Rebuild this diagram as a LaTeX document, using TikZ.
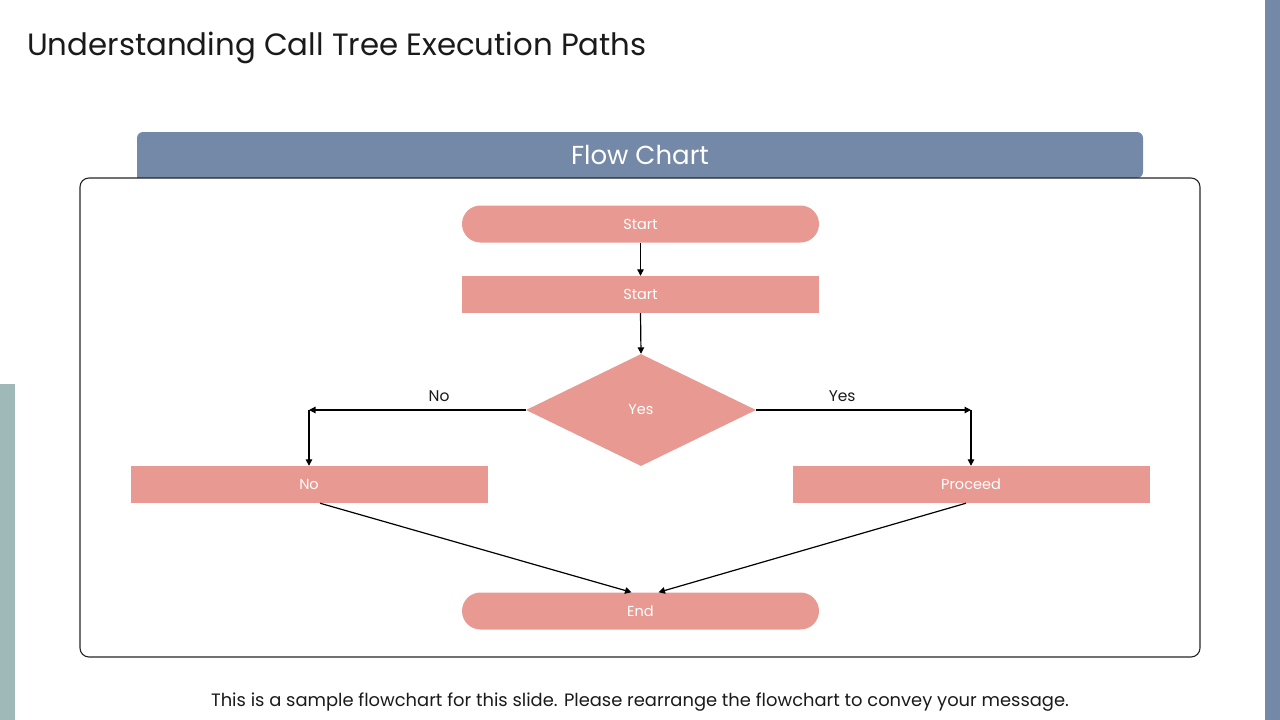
\documentclass[tikz,border=0pt]{standalone}
\usepackage{fontspec}
\setmainfont{Poppins}
\usetikzlibrary{shapes.geometric,arrows.meta}
\definecolor{slate}{HTML}{7489A8}
\definecolor{teal}{HTML}{9FB9B8}
\definecolor{salmon}{HTML}{E89A92}
\definecolor{txt}{HTML}{1A1A1A}
\tikzset{
  flowbox/.style={fill=salmon, draw=none, minimum width=357pt, minimum height=37pt, inner sep=0pt, text=white, font=\fontsize{14.5}{16}\selectfont},
  termbox/.style={flowbox, rounded corners=18.5pt},
  decision/.style={diamond, fill=salmon, draw=none, minimum width=230pt, minimum height=112pt, aspect=2.05, inner sep=0pt, text=white, font=\fontsize{14.5}{16}\selectfont},
  conn/.style={draw=black, line width=1.2pt, -{Triangle[length=6.5pt,width=6.5pt]}},
  lbl/.style={text=txt, font=\fontsize{15.5}{17}\selectfont, inner sep=0pt}
}
\begin{document}
\begin{tikzpicture}[x=1pt,y=-1pt]
\useasboundingbox (0,0) rectangle (1280,720);
\fill[white] (0,0) rectangle (1280,720);
% side bars
\fill[slate] (1265,0) rectangle (1280,720);
\fill[teal] (0,384) rectangle (15,720);
% title
\node[anchor=base west, inner sep=0pt, text=txt, font=\fontsize{30.8}{36}\selectfont] (title) at (27,55) {Understanding Call Tree Execution Paths};
% header tab
\fill[slate, rounded corners=6pt] (137,178) -- (137,132) -- (1143,132) -- (1143,178) [sharp corners] -- cycle;
\node[text=white, font=\fontsize{26}{30}\selectfont, inner sep=0pt] (header) at (640,155) {Flow Chart};
% frame
\draw[line width=1.1pt, rounded corners=9pt, draw=black!85] (80,178) rectangle (1200,657);
% nodes
\node[termbox] (start) at (640.5,224) {Start};
\node[flowbox] (proc) at (640.5,294.5) {Start};
\node[decision] (dec) at (641,410) {Yes};
\node[flowbox] (no) at (309,484.5) {No};
\node[flowbox] (yes) at (971,484.5) {Proceed};
\node[termbox] (end) at (640.5,611) {End};
\coordinate (nocorner) at (309,410);
\coordinate (yescorner) at (971,410);
% connectors
\draw[conn] (start.south) -- (proc.north);
\draw[conn] (proc.south) -- (dec.north);
\draw[conn] (dec.west) -- node[lbl, above=8pt, pos=0.40] {No} (nocorner);
\draw[conn] (nocorner) -- (no.north);
\draw[conn] (dec.east) -- node[lbl, above=8pt, pos=0.40] {Yes} (yescorner);
\draw[conn] (yescorner) -- (yes.north);
\draw[conn] ([xshift=11pt]no.south) -- ([xshift=-9pt]end.north);
\draw[conn] ([xshift=-5pt]yes.south) -- ([xshift=18pt]end.north);
% footer
\node[text=txt, font=\fontsize{17.9}{21}\selectfont, inner sep=0pt] (footer) at (640,702) {This is a sample flowchart for this slide. Please rearrange the flowchart to convey your message.};
\end{tikzpicture}
\end{document}
